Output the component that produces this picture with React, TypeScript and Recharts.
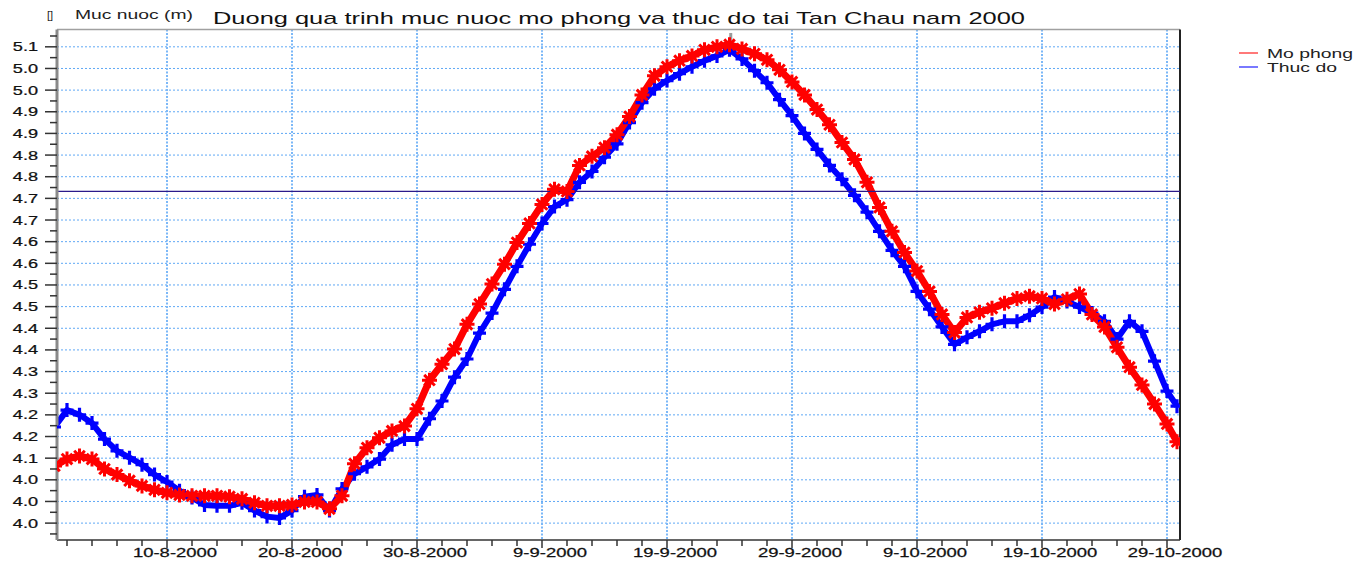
import React from 'react';
import { ComposedChart, Line, XAxis, YAxis, CartesianGrid, ReferenceLine } from 'recharts';

// ---------- data (day 0 = 1-8-2000) ----------
const days = [
  0, 1, 2, 3, 4, 5, 6, 7, 8, 9, 10, 11, 12, 13, 14, 15, 16, 17, 18, 19,
  20, 21, 22, 23, 24, 25, 26, 27, 28, 29, 30, 31, 32, 33, 34, 35, 36, 37, 38, 39,
  40, 41, 42, 43, 44, 45, 46, 47, 48, 49, 50, 51, 52, 53, 54, 55, 56, 57, 58, 59,
  60, 61, 62, 63, 64, 65, 66, 67, 68, 69, 70, 71, 72, 73, 74, 75, 76, 77, 78, 79,
  80, 81, 82, 83, 84, 85, 86, 87, 88, 89, 89.8,
];

const moPhong = [
  4.132, 4.148, 4.155, 4.148, 4.125, 4.112, 4.098, 4.086, 4.077, 4.070,
  4.065, 4.063, 4.063, 4.063, 4.061, 4.056, 4.047, 4.040, 4.040, 4.042,
  4.049, 4.049, 4.033, 4.063, 4.137, 4.174, 4.197, 4.213, 4.224, 4.264,
  4.330, 4.367, 4.402, 4.459, 4.506, 4.552, 4.598, 4.648, 4.692, 4.736,
  4.771, 4.766, 4.826, 4.847, 4.867, 4.897, 4.939, 4.989, 5.033, 5.054,
  5.068, 5.079, 5.093, 5.100, 5.105, 5.095, 5.084, 5.070, 5.047, 5.019,
  4.989, 4.955, 4.920, 4.879, 4.840, 4.787, 4.729, 4.674, 4.625, 4.582,
  4.535, 4.482, 4.440, 4.475, 4.487, 4.496, 4.508, 4.519, 4.524, 4.519,
  4.506, 4.517, 4.529, 4.482, 4.453, 4.406, 4.360, 4.319, 4.275, 4.229, 4.188,
];

const thucDo = [
  4.222, 4.261, 4.250, 4.231, 4.194, 4.167, 4.151, 4.135, 4.112, 4.095,
  4.075, 4.059, 4.042, 4.040, 4.040, 4.047, 4.029, 4.015, 4.012, 4.029,
  4.061, 4.065, 4.029, 4.079, 4.114, 4.130, 4.148, 4.181, 4.194, 4.194,
  4.241, 4.282, 4.337, 4.379, 4.439, 4.485, 4.540, 4.593, 4.644, 4.692,
  4.731, 4.747, 4.787, 4.812, 4.845, 4.876, 4.925, 4.971, 5.003, 5.022,
  5.038, 5.054, 5.068, 5.079, 5.093, 5.072, 5.045, 5.017, 4.978, 4.941,
  4.900, 4.863, 4.826, 4.794, 4.757, 4.718, 4.674, 4.630, 4.593, 4.535,
  4.494, 4.453, 4.413, 4.429, 4.443, 4.459, 4.466, 4.466, 4.480, 4.499,
  4.522, 4.512, 4.499, 4.485, 4.466, 4.425, 4.466, 4.443, 4.374, 4.305, 4.270,
];

const xMajorDays = [9, 19, 29, 39, 49, 59, 69, 79, 89];
const xMajorLabels = [
  '10-8-2000', '20-8-2000', '30-8-2000', '9-9-2000', '19-9-2000',
  '29-9-2000', '9-10-2000', '19-10-2000', '29-10-2000',
];
const xTickDays = [
  1, 3, 5, 7, 9, 11, 13, 15, 17, 19, 21, 23, 25, 27, 29, 31, 33, 35, 37, 39, 41, 43, 45,
  47, 49, 51, 53, 55, 57, 59, 61, 63, 65, 67, 69, 71, 73, 75, 77, 79, 81, 83, 85, 87, 89,
];

const yMajor = [
  4.0, 4.05, 4.1, 4.15, 4.2, 4.25, 4.3, 4.35, 4.4, 4.45, 4.5, 4.55,
  4.6, 4.65, 4.7, 4.75, 4.8, 4.85, 4.9, 4.95, 5.0, 5.05, 5.1,
];
const yTickLabels = [
  '4.0', '4.0', '4.0', '4.1', '4.2', '4.2', '4.3', '4.3', '4.4', '4.4', '4.5', '4.5',
  '4.6', '4.6', '4.7', '4.7', '4.8', '4.8', '4.9', '4.9', '5.0', '5.0', '5.1',
];
const yMinor = [
  3.975, 4.025, 4.075, 4.125, 4.175, 4.225, 4.275, 4.325, 4.375, 4.425, 4.475, 4.525,
  4.575, 4.625, 4.675, 4.725, 4.775, 4.825, 4.875, 4.925, 4.975, 5.025, 5.075, 5.125,
];
const yTicks = [...yMajor, ...yMinor].sort((a, b) => a - b);

const xDomain = [0.2, 90.04];
const yDomain = [3.961, 5.14];
const thresholdLevel = 4.766;
const cursorDay = 54.1;

const data = days.map((d, i) => ({ day: d, moPhong: moPhong[i], thucDo: thucDo[i] }));

const FONT = '"Liberation Sans", Arial, sans-serif';

const XTick = (props: any) => {
  const { x, y, payload } = props;
  const idx = xMajorDays.indexOf(payload.value);
  const major = idx >= 0;
  return (
    <g>
      <line x1={x} y1={y} x2={x} y2={y + (major ? 8 : 6)} stroke="#333" strokeWidth={1.5} />
      {major && (
        <text
          transform={`translate(${x + 8},${y + 16.5}) scale(1.42,1)`}
          textAnchor="middle"
          fontSize={13}
          fontFamily={FONT}
          fill="#111"
          stroke="#111"
          strokeWidth={0.25}
        >
          {xMajorLabels[idx]}
        </text>
      )}
    </g>
  );
};

const YTick = (props: any) => {
  const { x, y, payload } = props;
  const idx = yMajor.findIndex((v) => Math.abs(v - payload.value) < 1e-6);
  const major = idx >= 0;
  return (
    <g>
      <line x1={x - (major ? 12 : 7)} y1={y} x2={x} y2={y} stroke="#333" strokeWidth={1.5} />
      {major && (
        <text
          transform={`translate(${x - 19},${y + 4.5}) scale(1.45,1)`}
          textAnchor="end"
          fontSize={12.5}
          fontFamily={FONT}
          fill="#111"
          stroke="#111"
          strokeWidth={0.25}
        >
          {yTickLabels[idx]}
        </text>
      )}
    </g>
  );
};

const PlusDot = (props: any) => {
  const { cx, cy } = props;
  if (cx == null || cy == null) return null;
  return (
    <path
      d={`M${cx - 6.5},${cy}H${cx + 6.5}M${cx},${cy - 7}V${cy + 7}`}
      stroke="#0000ff"
      strokeWidth={3.2}
      fill="none"
    />
  );
};

const StarDot = (props: any) => {
  const { cx, cy } = props;
  if (cx == null || cy == null) return null;
  const r = 7.5;
  const d = 5.3;
  return (
    <path
      d={`M${cx - r},${cy}H${cx + r}M${cx},${cy - r}V${cy + r}M${cx - d},${cy - d}L${cx + d},${cy + d}M${cx - d},${cy + d}L${cx + d},${cy - d}`}
      stroke="#ff0000"
      strokeWidth={3}
      fill="none"
    />
  );
};

export default function App() {
  return (
    <div style={{ position: 'absolute', left: 0, top: 0, width: 1368, height: 563, background: '#fff' }}>
      <ComposedChart
        width={1368}
        height={563}
        data={data}
        margin={{ top: 29.5, right: 188, bottom: 0, left: 0 }}
      >
        <CartesianGrid
          horizontal={true}
          vertical={false}
          horizontalValues={yMajor}
          stroke="#5fa8f5"
          strokeDasharray="2 2"
          strokeWidth={1}
        />
        <CartesianGrid
          horizontal={false}
          vertical={true}
          verticalValues={xMajorDays}
          stroke="#7cb8f7"
          strokeDasharray="2 1.5"
          strokeWidth={2}
        />
        <XAxis
          dataKey="day"
          type="number"
          domain={xDomain}
          allowDataOverflow
          ticks={xTickDays}
          interval={0}
          tick={<XTick />}
          tickLine={false}
          tickSize={0}
          tickMargin={0}
          height={23}
          axisLine={{ stroke: '#333', strokeWidth: 1.5 }}
        />
        <YAxis
          type="number"
          domain={yDomain}
          allowDataOverflow
          ticks={yTicks}
          interval={0}
          tick={<YTick />}
          tickLine={false}
          tickSize={0}
          tickMargin={0}
          width={57}
          axisLine={{ stroke: '#8a8a8a', strokeWidth: 3 }}
        />
        <ReferenceLine y={yDomain[1]} stroke="#a0a0a0" strokeWidth={1.5} />
        <ReferenceLine x={xDomain[1]} stroke="#222" strokeWidth={2} />
        <Line
          dataKey="thucDo"
          name="Thuc do"
          stroke="#0000ff"
          strokeWidth={6}
          strokeLinejoin="round"
          dot={<PlusDot />}
          activeDot={false}
          isAnimationActive={false}
          type="linear"
        />
        <Line
          dataKey="moPhong"
          name="Mo phong"
          stroke="#ff0000"
          strokeWidth={7}
          strokeLinejoin="round"
          dot={<StarDot />}
          activeDot={false}
          isAnimationActive={false}
          type="linear"
        />
        <ReferenceLine y={thresholdLevel} stroke="#2a1a8a" strokeWidth={1.3} />
        <ReferenceLine
          segment={[{ x: cursorDay, y: 5.132 }, { x: cursorDay, y: 5.097 }]}
          stroke="#9a9a9a"
          strokeWidth={3}
        />
      </ComposedChart>
      <svg
        width={1368}
        height={563}
        style={{ position: 'absolute', left: 0, top: 0, pointerEvents: 'none' }}
      >
        <text x={47} y={19} fontSize={11} fontFamily={FONT} fill="#222">[]</text>
        <text x={75} y={19} fontSize={12} fontFamily={FONT} fill="#222" textLength={118} lengthAdjust="spacingAndGlyphs">
          Muc nuoc (m)
        </text>
        <text x={213} y={24} fontSize={17} fontFamily={FONT} fill="#111" textLength={812} lengthAdjust="spacingAndGlyphs">
          Duong qua trinh muc nuoc mo phong va thuc do tai Tan Chau nam 2000
        </text>
        <line x1={1239} y1={53} x2={1258} y2={53} stroke="#ff4d4d" strokeWidth={1.5} />
        <text x={1267} y={57.5} fontSize={13} fontFamily={FONT} fill="#222" textLength={86} lengthAdjust="spacingAndGlyphs">
          Mo phong
        </text>
        <line x1={1239} y1={67} x2={1258} y2={67} stroke="#4d4dff" strokeWidth={1.5} />
        <text x={1267} y={71.5} fontSize={13} fontFamily={FONT} fill="#222" textLength={70} lengthAdjust="spacingAndGlyphs">
          Thuc do
        </text>
      </svg>
    </div>
  );
}
